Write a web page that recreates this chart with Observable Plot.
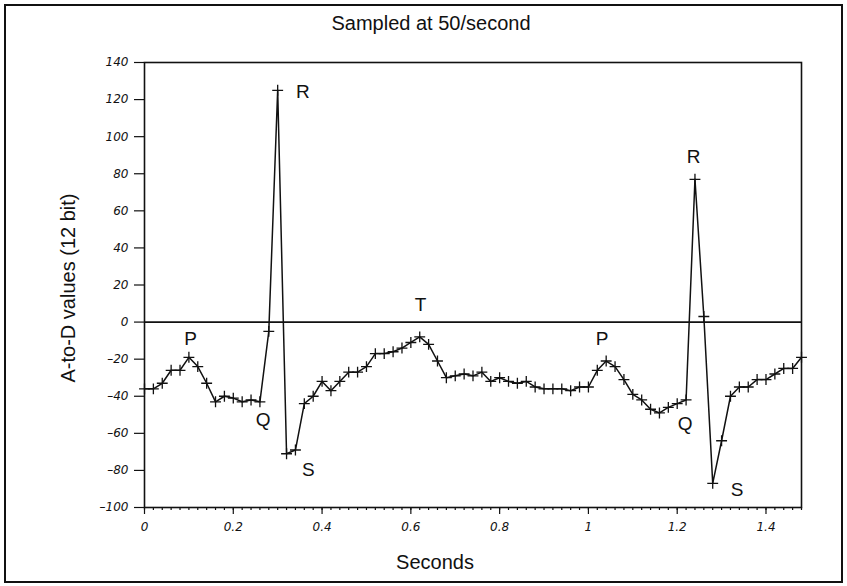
<!DOCTYPE html>
<html>
<head>
<meta charset="utf-8">
<script src="https://cdn.jsdelivr.net/npm/d3@7"></script>
<script src="https://cdn.jsdelivr.net/npm/@observablehq/plot@0.6"></script>
<style>
  html, body { margin: 0; padding: 0; background: #fff; }
  #wrap { position: relative; width: 847px; height: 586px; }
  #border { position: absolute; left: 4px; top: 4px; width: 839px; height: 579px; box-sizing: border-box; border: 2px solid #111; pointer-events: none; }
</style>
</head>
<body>
<div id="wrap"><div id="border"></div></div>
<script>
// ECG A-to-D samples, 50 samples per second
const sampleRate = 50;
const adValues = [
  -36, -36, -33, -26, -26, -19, -24, -33, -43, -40,
  -41, -43, -42, -43, -5, 125, -71, -69, -44, -40,
  -32, -37, -32, -27, -27, -24, -17, -17, -16, -14,
  -11, -8, -12, -21, -30, -29, -28, -29, -27, -32,
  -30, -32, -33, -32, -35, -36, -36, -36, -37, -35,
  -35, -26, -21, -24, -31, -39, -42, -47, -49, -46,
  -44, -42, 77, 3, -87, -64, -40, -35, -35, -31,
  -31, -28, -25, -25, -19
];
const seconds = adValues.map((_, i) => i / sampleRate);

const xTicks = [0, 0.2, 0.4, 0.6, 0.8, 1, 1.2, 1.4];
const xTickLabels = ["0", "0.2", "0.4", "0.6", "0.8", "1", "1.2", "1.4"];
const xMinorTicks = seconds;
const yTicks = [-100, -80, -60, -40, -20, 0, 20, 40, 60, 80, 100, 120, 140];
const yTickLabels = ["–100", "–80", "–60", "–40", "–20", "0", "20", "40", "60", "80", "100", "120", "140"];

const waveLabels = ["P", "Q", "R", "S", "T", "P", "Q", "R", "S"];
const waveLabelX = [0.104, 0.267, 0.357, 0.369, 0.622, 1.031, 1.218, 1.237, 1.335];
const waveLabelY = [-9.2, -52.5, 124, -79.5, 9.2, -9.2, -55, 89, -90.5];

const title = "Sampled at 50/second";
const xTitle = "Seconds";
const yTitle = "A-to-D values (12 bit)";

const samples = seconds.map((t, i) => ({t, v: adValues[i]}));
const labels = waveLabels.map((s, i) => ({s, x: waveLabelX[i], y: waveLabelY[i]}));
const xTickRows = xTicks.map((v, i) => ({v, s: xTickLabels[i]}));
const yTickRows = yTicks.map((v, i) => ({v, s: yTickLabels[i]}));

const tickFont = {fontFamily: '"DejaVu Sans", sans-serif', fontSize: 12, fontStyle: "italic", fill: "#111"};

const chart = Plot.plot({
  width: 847,
  height: 586,
  marginLeft: 144,
  marginRight: 46,
  marginTop: 62,
  marginBottom: 79,
  style: {fontFamily: '"Liberation Sans", Arial, sans-serif', background: "transparent", color: "#111"},
  x: {domain: [0, 1.48]},
  y: {domain: [-100, 140]},
  marks: [
    Plot.axisX(xMinorTicks, {tickSize: 3, text: null, strokeWidth: 1.2, label: null}),
    Plot.axisX(xTicks, {tickSize: 7, text: null, strokeWidth: 1.2, label: null}),
    Plot.axisY(yTicks, {tickSize: 10, text: null, strokeWidth: 1.2, label: null}),
    Plot.text(xTickRows, {x: "v", text: "s", frameAnchor: "bottom", dy: 20, lineAnchor: "middle", textAnchor: "middle", ...tickFont}),
    Plot.text(yTickRows, {y: "v", text: "s", frameAnchor: "left", dx: -16, lineAnchor: "middle", textAnchor: "end", ...tickFont}),
    Plot.frame({strokeWidth: 1.6}),
    Plot.ruleY([0], {strokeWidth: 1.6}),
    Plot.line(samples, {x: "t", y: "v", stroke: "#111", strokeWidth: 1.5}),
    Plot.dot(samples, {x: "t", y: "v", symbol: "plus", r: 3.6, stroke: "#111", strokeWidth: 1.3}),
    Plot.text(labels, {x: "x", y: "y", text: "s", fontSize: 19, textAnchor: "middle", lineAnchor: "middle", fill: "#111"}),
    Plot.text([title], {frameAnchor: "top", dy: -39, dx: -42, fontSize: 20, lineAnchor: "middle", fill: "#111"}),
    Plot.text([xTitle], {frameAnchor: "bottom", dy: 55, dx: -38, fontSize: 20, lineAnchor: "middle", fill: "#111"}),
    Plot.text([yTitle], {frameAnchor: "left", dx: -76, dy: 3, rotate: -90, fontSize: 20, lineAnchor: "middle", textAnchor: "middle", fill: "#111"})
  ]
});
document.getElementById("wrap").prepend(chart);
</script>
</body>
</html>
